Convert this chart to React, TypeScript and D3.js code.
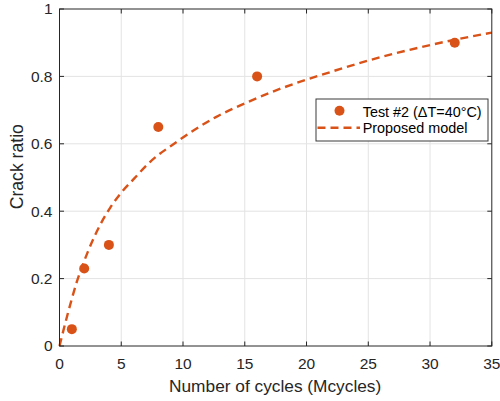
import * as d3 from "d3";

const WIDTH = 500;
const HEIGHT = 401;
const LEFT = 59.5;
const RIGHT = 491.8;
const TOP = 9;
const BOTTOM = 346;
const ORANGE = "#D95319";
const AXIS = "#262626";
const FONT = "'Liberation Sans', Arial, Helvetica, sans-serif";

// measured test points
const testCycles = [1, 2, 4, 8, 16, 32];
const testRatio = [0.05, 0.23, 0.3, 0.65, 0.8, 0.9];

// model curve
const modelCycles = [0, 0.7, 1.4, 2.3, 3.3, 4.1, 5, 6, 7.3, 9.5, 12.7, 15, 18, 21.6, 25, 30, 35];
const modelRatio = [0, 0.1, 0.19, 0.28, 0.36, 0.41, 0.455, 0.495, 0.545, 0.606, 0.68, 0.72, 0.765, 0.809, 0.847, 0.893, 0.93];

const xTicks = [0, 5, 10, 15, 20, 25, 30, 35];
const yTicks = [0, 0.2, 0.4, 0.6, 0.8, 1];
const yTickLabels = ["0", "0.2", "0.4", "0.6", "0.8", "1"];

export default function App() {
  const x = d3.scaleLinear().domain([0, 35]).range([LEFT, RIGHT]);
  const y = d3.scaleLinear().domain([0, 1]).range([BOTTOM, TOP]);

  const line = d3
    .line<number>()
    .x((d) => x(modelCycles[d]))
    .y((d) => y(modelRatio[d]))
    .curve(d3.curveMonotoneX);

  const tick = 4.5;

  return (
    <svg
      width={WIDTH}
      height={HEIGHT}
      viewBox={`0 0 ${WIDTH} ${HEIGHT}`}
      style={{ position: "absolute", left: 0, top: 0, background: "#fff" }}
      fontFamily={FONT}
    >
      <rect x={LEFT} y={TOP} width={RIGHT - LEFT} height={BOTTOM - TOP} fill="#fff" />
      <g className="grid" stroke="#e3e3e3" strokeWidth="1">
        {xTicks.slice(1, -1).map((t) => (
          <line key={`gx${t}`} x1={x(t)} x2={x(t)} y1={TOP} y2={BOTTOM} />
        ))}
        {yTicks.slice(1, -1).map((t) => (
          <line key={`gy${t}`} x1={LEFT} x2={RIGHT} y1={y(t)} y2={y(t)} />
        ))}
      </g>

      <path
        d={line(modelCycles.map((_, i) => i)) || ""}
        fill="none"
        stroke={ORANGE}
        strokeWidth="2.4"
        strokeDasharray="8,5"
      />
      <g fill={ORANGE}>
        {testCycles.map((c, i) => (
          <circle key={c} cx={x(c)} cy={y(testRatio[i])} r="5" />
        ))}
      </g>

      <g stroke={AXIS} strokeWidth="1" fill="none">
        <rect x={LEFT} y={TOP} width={RIGHT - LEFT} height={BOTTOM - TOP} />
        {xTicks.map((t) => (
          <g key={`tx${t}`}>
            <line x1={x(t)} x2={x(t)} y1={BOTTOM} y2={BOTTOM - tick} />
            <line x1={x(t)} x2={x(t)} y1={TOP} y2={TOP + tick} />
          </g>
        ))}
        {yTicks.map((t) => (
          <g key={`ty${t}`}>
            <line x1={LEFT} x2={LEFT + tick} y1={y(t)} y2={y(t)} />
            <line x1={RIGHT} x2={RIGHT - tick} y1={y(t)} y2={y(t)} />
          </g>
        ))}
      </g>

      <g fill={AXIS} fontSize="15.5">
        {xTicks.map((t) => (
          <text key={`lx${t}`} x={x(t)} y={368.5} textAnchor="middle">
            {t}
          </text>
        ))}
        {yTicks.map((t, i) => (
          <text key={`ly${t}`} x={52.5} y={y(t) + 5.4} textAnchor="end">
            {yTickLabels[i]}
          </text>
        ))}
      </g>

      <text x={(LEFT + RIGHT) / 2 - 0.5} y={391.5} textAnchor="middle" fontSize="17.3" fill={AXIS}>
        Number of cycles (Mcycles)
      </text>
      <text
        transform={`translate(23.3, 166.7) rotate(-90)`}
        textAnchor="middle"
        fontSize="17.6"
        fill={AXIS}
      >
        Crack ratio
      </text>

      <g className="legend">
        <rect x={316} y={99} width={172} height={42} fill="#fff" stroke="#3a3a3a" strokeWidth="1" />
        <circle cx={339.5} cy={110.8} r="5" fill={ORANGE} />
        <line x1={317.5} x2={360} y1={127.7} y2={127.7} stroke={ORANGE} strokeWidth="2.4" strokeDasharray="8,5" />
        <text x={362.7} y={116.5} fontSize="14.4" fill="#000">
          Test #2 (ΔT=40°C)
        </text>
        <text x={362.7} y={133.3} fontSize="14.4" fill="#000">
          Proposed model
        </text>
      </g>
    </svg>
  );
}
